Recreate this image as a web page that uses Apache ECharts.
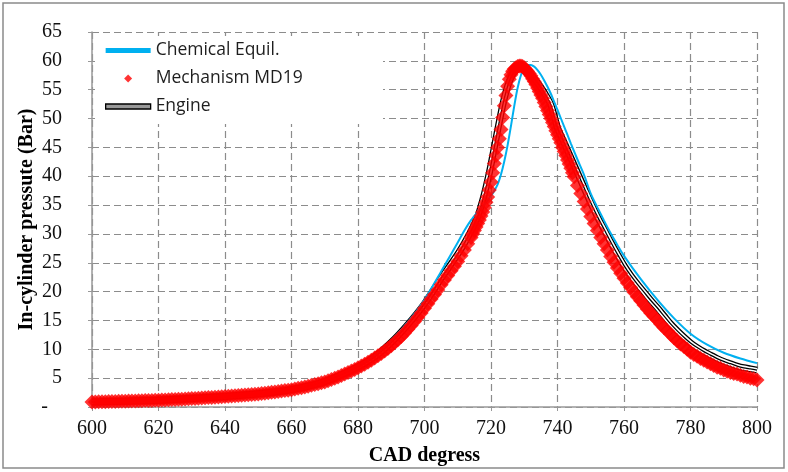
<!DOCTYPE html>
<html>
<head>
<meta charset="utf-8">
<script src="https://cdn.jsdelivr.net/npm/echarts@6/dist/echarts.min.js"></script>
<style>
html,body{margin:0;padding:0;background:#fff;}
#chart{width:788px;height:472px;}
</style>
</head>
<body>
<div id="chart"></div>
<script>
// ---- Mechanism MD19 (red diamonds) ----
const cadRed = [
600,601,602,603,604,605,606,607,608,609,610,611,612,613,614,615,616,617,618,619,620,
621,622,623,624,625,626,627,628,629,630,631,632,633,634,635,636,637,638,639,640,
641,642,643,644,645,646,647,648,649,650,
651,652,653,654,655,656,657,658,659,660,
661,662,663,664,665,666,667,668,669,670,
671,672,673,674,675,676,677,678,679,680,
681,682,683,684,685,686,687,688,689,690,
691,692,693,694,695,696,697,698,699,700,
701,702,703,704,705,706,707,708,709,710,
711,712,713,714,
714.5,715,715.5,716,716.5,717,717.5,718,718.5,719,
719.5,720,720.5,721,721.5,722,722.5,723,723.5,724,
724.5,725,725.5,726,726.5,727,727.5,728,728.5,729,
729.5,730,730.5,731,731.5,732,732.5,733,733.5,734,
734.5,735,735.5,736,736.5,737,737.5,738,738.5,739,
739.5,740,740.5,741,741.5,742,742.5,743,743.5,744,
744.5,745,
746,747,748,749,750,751,752,753,754,755,
756,757,758,759,760,761,762,763,764,765,
766,767,768,769,770,771,772,773,774,775,
776,777,778,779,780,781,782,783,784,785,
786,787,788,789,790,791,792,793,794,795,
796,797,798,799,800
];
const pRed = [
0.87,0.88,0.90,0.91,0.92,0.94,0.95,0.96,0.98,0.99,1.01,1.02,1.04,1.06,1.07,1.09,1.11,1.12,1.14,1.16,1.17,
1.20,1.22,1.25,1.28,1.31,1.33,1.36,1.39,1.42,1.46,1.49,1.52,1.56,1.59,1.63,1.66,1.70,1.74,1.78,1.82,
1.86,1.90,1.94,1.98,2.03,2.07,2.12,2.17,2.22,2.27,
2.33,2.40,2.47,2.54,2.61,2.68,2.76,2.84,2.92,3.00,
3.11,3.23,3.35,3.48,3.61,3.75,3.89,4.03,4.19,4.35,
4.55,4.76,4.98,5.21,5.45,5.70,5.96,6.23,6.52,6.80,
7.11,7.43,7.77,8.12,8.49,8.87,9.28,9.70,10.14,10.60,
11.12,11.66,12.24,12.84,13.46,14.12,14.82,15.54,16.30,17.10,
17.9,18.7,19.5,20.3,21.2,22.0,22.8,23.6,24.4,25.2,
26.2,27.2,28.3,29.4,
30.0,30.6,31.2,31.8,32.4,33.1,33.8,34.6,35.5,36.4,
37.6,39.0,40.6,42.2,43.6,45.0,46.5,48.1,50.2,52.2,
54.0,55.6,56.8,57.6,58.2,58.6,58.8,59.0,59.1,59.1,
59.0,58.8,58.5,58.2,57.8,57.4,56.9,56.4,55.9,55.3,
54.7,54.1,53.5,52.8,52.1,51.4,50.7,50.0,49.3,48.6,
47.9,47.2,46.5,45.8,45.0,44.3,43.6,42.8,42.1,41.4,
40.6,39.9,
38.4,37.0,35.6,34.3,33.0,31.8,30.6,29.4,28.3,27.2,
26.1,25.1,24.1,23.2,22.3,21.5,20.7,19.9,19.1,18.4,
17.7,17.0,16.3,15.7,15.1,14.4,13.8,13.2,12.6,12.0,
11.5,10.9,10.5,10.0,9.5,9.1,8.8,8.4,8.1,7.8,
7.5,7.2,6.9,6.7,6.4,6.2,6.0,5.8,5.7,5.5,
5.3,5.2,5.0,4.9,4.7
];

// ---- Engine (black) ----
const cadEngine = [600,610,620,630,640,650,660,670,680,685,690,695,700,705,710,712,714,716,717,718,719,720,721,722,723,724,725,726,727,728,729,730,731,732,733,734,735,736,738,740,742,744,746,748,750,752,754,756,758,760,762,764,766,768,770,772,774,776,778,780,782,784,786,788,790,792,794,796,798,800];
const pEngine = [0.87,1.01,1.17,1.46,1.82,2.28,3.02,4.40,6.95,8.70,11.2,14.3,17.9,22.3,26.5,28.4,30.5,33.0,34.8,36.9,39.3,42.0,45.0,48.0,50.9,53.5,55.6,57.1,58.1,58.6,58.7,58.5,58.1,57.5,56.9,56.2,55.4,54.5,52.4,48.4,45.8,43.2,40.6,38.0,35.4,33.0,30.8,28.6,26.5,24.5,22.8,21.3,19.9,18.5,17.2,15.8,14.4,13.2,12.1,11.1,10.3,9.6,9.0,8.4,7.9,7.5,7.1,6.8,6.6,6.4];

// ---- Chemical Equil. (blue) ----
const cadChem = [600,610,620,630,640,650,660,670,680,685,690,695,700,705,710,712,714,716,718,720,721,722,723,724,725,726,727,728,729,730,731,732,733,734,735,736,737,738,739,740,742,744,746,748,750,752,754,756,758,760,765,770,775,780,785,790,795,800];
const pChem = [0.87,1.01,1.17,1.46,1.82,2.30,3.05,4.45,7.05,8.95,11.5,14.7,18.6,23.5,28.5,30.6,32.4,33.8,35.1,36.6,37.5,38.6,40.3,42.6,45.4,48.7,52.2,55.3,57.5,58.8,59.3,59.3,59.0,58.4,57.6,56.6,55.5,54.3,52.9,51.5,48.6,45.7,42.9,40.2,37.0,34.6,32.3,30.1,28.1,26.2,22.2,18.6,15.4,12.7,10.8,9.4,8.4,7.6];

const seriesNames = ['Chemical Equil.', 'Mechanism MD19', 'Engine'];
const xAxisTitle = 'CAD degress';
const yAxisTitle = 'In-cylinder pressute (Bar)';

function pairs(xs, ys) { return xs.map((x, i) => [x, ys[i]]); }

const serif = '"Liberation Serif", "Times New Roman", serif';
const chart = echarts.init(document.getElementById('chart'), null, {renderer: 'canvas'});
const engineData = pairs(cadEngine, pEngine);
chart.setOption({
  animation: false,
  backgroundColor: '#fff',
  grid: {left: 92, right: 31, top: 32, bottom: 65, containLabel: false, outerBoundsMode: 'none'},
  xAxis: {
    type: 'value', min: 600, max: 800, interval: 20,
    name: xAxisTitle, nameLocation: 'middle', nameGap: 39, nameMoveOverlap: false,
    nameTextStyle: {fontFamily: serif, fontSize: 20, fontWeight: 'bold', color: '#000'},
    axisLine: {show: true, lineStyle: {color: '#999', width: 1.5}},
    axisTick: {show: true, length: 4, lineStyle: {color: '#999'}},
    axisLabel: {fontFamily: serif, fontSize: 20, color: '#111', margin: 12},
    splitLine: {show: true, lineStyle: {color: '#8c8c8c', type: [7, 4], width: 1.2}}
  },
  yAxis: {
    type: 'value', min: 0, max: 65, interval: 5,
    name: yAxisTitle, nameLocation: 'middle', nameGap: 55, nameRotate: 90, nameMoveOverlap: false,
    nameTextStyle: {fontFamily: serif, fontSize: 20, fontWeight: 'bold', color: '#000'},
    axisLine: {show: true, lineStyle: {color: '#999', width: 1.5}},
    axisTick: {show: true, length: 4, lineStyle: {color: '#999'}},
    axisLabel: {
      fontFamily: serif, fontSize: 20, color: '#111', margin: 30,
      formatter: v => v === 0 ? '{z|-}' : String(v),
      rich: {z: {fontFamily: serif, fontSize: 20, color: '#111', padding: [0, 14, 0, 0]}}
    },
    splitLine: {show: true, lineStyle: {color: '#8c8c8c', type: [7, 4], width: 1.2}}
  },
  legend: {
    orient: 'vertical', left: 95, top: 35,
    padding: [6, 10, 6, 10],
    backgroundColor: 'rgba(0,0,0,0)',
    itemWidth: 45, itemHeight: 8, itemGap: 9,
    selectedMode: false,
    textStyle: {fontFamily: '"Open Sans", sans-serif', fontSize: 17.5, color: '#1e1e1e', lineHeight: 19},
    data: [
      {name: seriesNames[0], icon: 'path://M0,0H45V5H0Z', itemStyle: {color: '#00B0F0'}},
      {name: seriesNames[1], icon: 'path://M4,0L8,4L4,8L0,4Z', itemStyle: {color: '#FF0000'}},
      {name: seriesNames[2], icon: 'path://M0,0H45V5H0Z', itemStyle: {color: '#999', borderColor: '#000', borderWidth: 1.3}}
    ]
  },
  graphic: [
    {type: 'rect', z: 3, silent: true, shape: {x: 95, y: 36, width: 288, height: 88}, style: {fill: '#fff'}},
    {type: 'rect', z: 10, silent: true, shape: {x: 3, y: 3, width: 781, height: 465}, style: {fill: 'none', stroke: '#8a8a8a', lineWidth: 1.5}}
  ],
  series: [
    {name: seriesNames[2], type: 'line', data: engineData, showSymbol: false, smooth: 0.3, z: 2,
     lineStyle: {color: '#000', width: 7}, itemStyle: {color: '#000'}},
    {name: 'engine-inner', type: 'line', data: engineData, showSymbol: false, smooth: 0.3, z: 2,
     lineStyle: {color: '#fff', width: 4.4}, silent: true},
    {name: 'engine-core', type: 'line', data: engineData, showSymbol: false, smooth: 0.3, z: 2,
     lineStyle: {color: '#000', width: 1.3}, silent: true},
    {name: seriesNames[0], type: 'line', data: pairs(cadChem, pChem), showSymbol: false, smooth: 0.3, z: 3,
     lineStyle: {color: '#00B0F0', width: 2}, itemStyle: {color: '#00B0F0'}},
    {name: seriesNames[1], type: 'scatter', data: pairs(cadRed, pRed), symbol: 'diamond', symbolSize: 15, z: 4,
     itemStyle: {color: '#FF0000'}}
  ]
});
</script>
</body>
</html>
